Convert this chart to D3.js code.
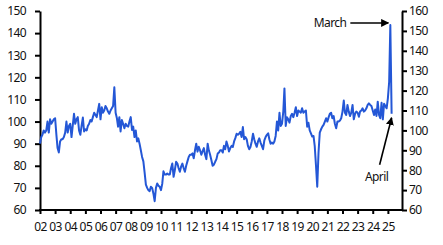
<!DOCTYPE html>
<html>
<head>
<meta charset="utf-8">
<script src="https://cdn.jsdelivr.net/npm/d3@7"></script>
<style>
  body { margin: 0; background: #fff; }
  svg text { font-family: "Noto Sans", "Liberation Sans", sans-serif; font-size: 12px; fill: #111; letter-spacing: -0.6px; }
</style>
</head>
<body>
<svg id="chart" width="443" height="245"></svg>
<script>
// monthly index, one row per year, starting Jan 2002
const firstYear = 2002;
const monthly = [
  [90, 93, 94, 96, 95, 96, 100, 95, 101, 99, 100, 101],                 // 2002
  [101.5, 94, 88, 86, 91, 92, 92, 93, 95, 100, 95, 98],                 // 2003
  [99, 93, 98, 103.5, 99, 101, 102, 96, 94, 98, 101.8, 95.5],           // 2004
  [96.5, 96, 98, 99, 100.7, 100, 102, 104, 103, 102, 105, 108],         // 2005
  [101, 106.5, 104, 105, 107, 106, 104.5, 103.5, 105, 106, 107, 115.5], // 2006
  [104, 101.5, 97.7, 102, 95.5, 100.7, 99, 97, 99, 98, 97.7, 100],      // 2007
  [102, 96.2, 97.7, 93, 96, 91, 92.4, 90, 87, 84, 82, 77],              // 2008
  [71.5, 70, 69, 68.5, 70.5, 70, 67.5, 64, 70, 72, 71, 70.5],           // 2009
  [69, 72, 77.5, 76, 76, 76.5, 76, 76, 79, 81, 75, 78],                 // 2010
  [81.8, 81, 79, 77.3, 79.6, 81, 79, 77.3, 80, 82, 84, 85],             // 2011
  [85, 85.6, 83.4, 87, 90, 86.4, 88.6, 87, 85, 86.5, 88, 85],           // 2012
  [83, 90, 87, 85, 82.6, 80, 80.5, 81.8, 83, 85.5, 86, 87],             // 2013
  [87, 86, 89, 87.5, 91, 89, 86.5, 88, 89, 88.5, 91, 92.5],             // 2014
  [94.5, 94, 94.5, 95.4, 93, 97.5, 92, 93, 92, 89, 87.5, 88.5],         // 2015
  [91, 94.5, 92, 90, 88.6, 91, 92.4, 90.5, 89, 87.5, 91.5, 93],         // 2016
  [94, 94.7, 92, 90, 90.5, 90, 91, 93.5, 100, 96, 104, 98],             // 2017
  [99, 104.5, 115, 98, 102, 101, 99.5, 102.5, 103.5, 102, 104, 106.5],  // 2018
  [102.5, 105, 104.5, 104, 106, 104, 104.5, 105, 97.7, 99.5, 96, 94.7], // 2019
  [93.2, 93.5, 89, 80, 70.5, 86, 95, 96.5, 97.7, 98.5, 100, 101.5],     // 2020
  [100, 102, 103.5, 104, 101.5, 102.5, 99, 97, 100, 100, 100.5, 101.5], // 2021
  [104.5, 109.5, 104, 103, 107.5, 104.5, 102.5, 104, 107.5, 101, 103.5, 104.5], // 2022
  [104, 102.2, 104.5, 105, 106, 104.5, 105, 106, 107.5, 108.2, 107.5, 107],     // 2023
  [105, 103, 105.5, 102.5, 109, 103, 101.5, 108.5, 101, 108, 107, 106], // 2024
  [110.5, 118, 143.7, 103.5]                                            // 2025
];

const leftTicks = [60, 70, 80, 90, 100, 110, 120, 130, 140, 150];
const rightTicks = [60, 70, 80, 90, 100, 110, 120, 130, 140, 150, 160];
const yearTicks = d3.range(2002, 2026);

function draw() {
  // flatten to dated points
  var data = [];
  monthly.forEach(function (row, i) {
    row.forEach(function (v, m) {
      data.push({ date: new Date(firstYear + i, m, 1), value: v });
    });
  });

  var svg = d3.select("#chart");
  var pl = 40, pr = 402, pt = 11, pb = 210;

  var x = d3.scaleTime()
    .domain([new Date(2002, 0, 1), new Date(2026, 0, 1)])
    .range([pl, pr + 1]);
  var yL = d3.scaleLinear().domain([60, 150]).range([pb, pt]);
  var yR = d3.scaleLinear().domain([60, 160]).range([pb, pt]);

  // axes
  var gl = svg.append("g")
    .attr("transform", "translate(" + pl + ",0)")
    .call(d3.axisLeft(yL).tickValues(leftTicks).tickSize(5).tickSizeOuter(0).tickPadding(9));

  var gr = svg.append("g")
    .attr("transform", "translate(" + pr + ",0)")
    .call(d3.axisRight(yR).tickValues(rightTicks).tickSize(5).tickSizeOuter(0).tickPadding(2));

  var gb = svg.append("g")
    .attr("transform", "translate(0," + pb + ")")
    .call(d3.axisBottom(x)
      .tickValues(yearTicks.map(function (y) { return new Date(y, 0, 1); }))
      .tickFormat(d3.timeFormat("%y"))
      .tickSize(4).tickSizeOuter(0).tickPadding(8));

  [gl, gr, gb].forEach(function (g) {
    g.selectAll(".domain").attr("stroke", "#000").attr("stroke-width", 2);
    g.selectAll(".tick line").attr("stroke", "#000").attr("stroke-width", 2);
    g.selectAll("text").attr("font-size", null).attr("font-family", null).attr("fill", "#111");
  });
  gb.select(".domain").attr("d", "M" + (pl - 1) + ",0H" + (pr + 1));

  // the series
  var line = d3.line()
    .x(function (d) { return x(d.date); })
    .y(function (d) { return yL(d.value); });

  svg.append("path")
    .datum(data)
    .attr("fill", "none")
    .attr("stroke", "#2457d6")
    .attr("stroke-width", 2)
    .attr("stroke-linejoin", "round")
    .attr("d", line);

  // arrows
  svg.append("defs").append("marker")
    .attr("id", "head")
    .attr("viewBox", "0 0 10 10")
    .attr("refX", 9).attr("refY", 5)
    .attr("markerWidth", 5).attr("markerHeight", 5)
    .attr("orient", "auto")
    .append("path").attr("d", "M0,0L10,5L0,10z").attr("fill", "#000");

  var march = data[data.length - 2];
  var april = data[data.length - 1];

  svg.append("line")
    .attr("x1", x(march.date) - 40).attr("y1", yL(march.value) - 2)
    .attr("x2", x(march.date) - 2).attr("y2", yL(march.value) - 2)
    .attr("stroke", "#000").attr("stroke-width", 1.6)
    .attr("marker-end", "url(#head)");
  svg.append("text")
    .attr("x", x(march.date) - 44).attr("y", yL(march.value) - 2)
    .attr("dy", "0.35em").attr("text-anchor", "end")
    .text("March");

  svg.append("line")
    .attr("x1", x(april.date) - 12).attr("y1", yL(april.value) + 51)
    .attr("x2", x(april.date)).attr("y2", yL(april.value) + 4)
    .attr("stroke", "#000").attr("stroke-width", 1.6)
    .attr("marker-end", "url(#head)");
  svg.append("text")
    .attr("x", x(april.date) - 15).attr("y", yL(april.value) + 63)
    .attr("dy", "0.35em").attr("text-anchor", "middle")
    .text("April");
}
draw();
</script>
</body>
</html>
